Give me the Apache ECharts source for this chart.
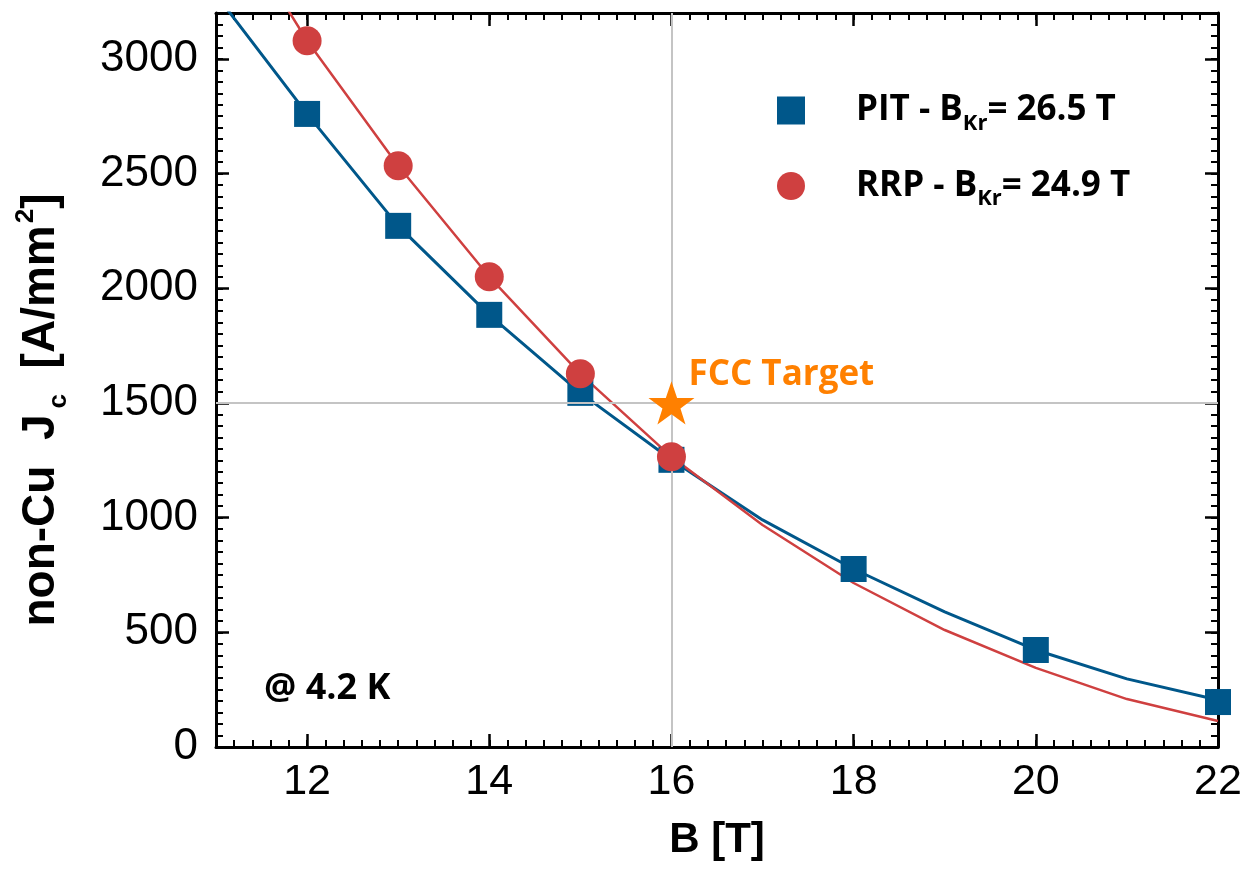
<!DOCTYPE html>
<html>
<head>
<meta charset="utf-8">
<script src="https://cdn.jsdelivr.net/npm/echarts@6/dist/echarts.min.js"></script>
<style>
  html, body { margin: 0; padding: 0; background: #fff; }
  #chart { width: 1249px; height: 880px; }
</style>
</head>
<body>
<div id="chart"></div>
<script>
// fit curves (at integer fields)
const fieldB = [11, 12, 13, 14, 15, 16, 17, 18, 19, 20, 21, 22];
const pitFit = [3280, 2760, 2272, 1884, 1544, 1252, 990, 776, 589, 423, 297, 205];
const rrpFit = [3720, 3079, 2534, 2050, 1627, 1265, 968, 715, 510, 345, 209, 113];

// measured points
const pitB = [12, 13, 14, 15, 16, 18, 20, 22];
const pitJc = [2760, 2272, 1884, 1544, 1252, 776, 423, 196];
const rrpB = [12, 13, 14, 15, 16];
const rrpJc = [3079, 2534, 2050, 1627, 1265];

// FCC target
const targetB = 16;
const targetJc = 1500;

const xTicks = [12, 14, 16, 18, 20, 22];
const yTicks = [0, 500, 1000, 1500, 2000, 2500, 3000];

const blue = '#00578a';
const red = '#cf4040';
const orange = '#ff8000';

function pairs(xs, ys) {
  return xs.map(function (x, i) { return [x, ys[i]]; });
}

const star = 'path://M50,0 L61.8,35.1 L98.1,35.1 L68.8,56.7 L79.4,90.5 L50,69.1 L20.6,90.5 L31.2,56.7 L1.9,35.1 L38.2,35.1 Z';

const line = { show: true, onZero: false, lineStyle: { color: '#000', width: 3 } };
function majorTick(values) {
  return { show: true, inside: true, length: 13, customValues: values, lineStyle: { color: '#000', width: 2.5 } };
}
const minorTick = { show: true, inside: true, length: 7, lineStyle: { color: '#000', width: 2 } };

// grid 0: main axes with labels and long ticks; grid 1 (same box): short ticks only
function xMain(pos, labels) {
  return {
    type: 'value', gridIndex: 0, min: 11, max: 22, position: pos,
    axisLine: line, axisTick: majorTick(xTicks), splitLine: { show: false },
    axisLabel: labels ? {
      margin: 14, color: '#000', fontSize: 43, fontFamily: 'Liberation Sans', customValues: xTicks
    } : { show: false }
  };
}
function xMinor(pos) {
  return {
    type: 'value', gridIndex: 1, min: 11, max: 22, interval: 0.2, position: pos,
    axisLine: { show: false, onZero: false }, axisTick: minorTick, axisLabel: { show: false }, splitLine: { show: false }
  };
}
function yMain(pos, labels) {
  return {
    type: 'value', gridIndex: 0, min: 0, max: 3200, position: pos,
    axisLine: line, axisTick: majorTick(yTicks), splitLine: { show: false },
    axisLabel: labels ? {
      margin: 18, color: '#000', fontSize: 44, fontFamily: 'Liberation Sans', customValues: yTicks,
      formatter: function (v) { return String(v); }
    } : { show: false }
  };
}
function yMinor(pos) {
  return {
    type: 'value', gridIndex: 1, min: 0, max: 3200, interval: 50, position: pos,
    axisLine: { show: false, onZero: false }, axisTick: minorTick, axisLabel: { show: false }, splitLine: { show: false }
  };
}

const xBottom = Object.assign(xMain('bottom', true), {
  name: 'B [T]', nameLocation: 'middle', nameGap: 72,
  nameTextStyle: { color: '#000', fontSize: 42, fontWeight: 'bold', fontFamily: 'Liberation Sans' }
});
const yLeft = Object.assign(yMain('left', true), {
  name: 'non-Cu  J{s|c}  [A/mm{p|2}]', nameLocation: 'middle', nameGap: 144,
  nameTextStyle: {
    color: '#000', fontSize: 46, fontWeight: 'bold', fontFamily: 'Liberation Sans',
    padding: [0, 60, 0, 0],
    rich: {
      s: { fontSize: 26, fontWeight: 'bold', fontFamily: 'Liberation Sans', color: '#000', padding: [36, 0, 0, 6] },
      p: { fontSize: 26, fontWeight: 'bold', fontFamily: 'Liberation Sans', color: '#000', padding: [0, 0, 30, 2] }
    }
  }
});

const gridBox = { left: 216, right: 31, top: 13, bottom: 133, outerBoundsMode: 'none', containLabel: false };

const chart = echarts.init(document.getElementById('chart'));

chart.setOption({
  animation: false,
  backgroundColor: '#fff',
  grid: [gridBox, gridBox],
  xAxis: [xBottom, xMain('top', false), xMinor('bottom'), xMinor('top')],
  yAxis: [yLeft, yMain('right', false), yMinor('left'), yMinor('right')],
  legend: {
    data: ['PIT', 'RRP'],
    orient: 'vertical',
    left: 772, top: 88,
    itemWidth: 28, itemHeight: 28, itemGap: 34,
    selectedMode: false,
    formatter: function (name) {
      return name === 'PIT'
        ? '{m|PIT - B}{s|Kr}{m|= 26.5 T}'
        : '{m|RRP - B}{s|Kr}{m|= 24.9 T}';
    },
    textStyle: {
      rich: {
        m: { fontSize: 35, fontWeight: 'bold', fontFamily: 'Open Sans', color: '#000' },
        s: { fontSize: 22, fontWeight: 'bold', fontFamily: 'Open Sans', color: '#000', padding: [26, 0, 0, 0] }
      },
      padding: [0, 0, 0, 46]
    }
  },
  graphic: [{
    type: 'text', left: 264, top: 671,
    style: { text: '@ 4.2 K', fontSize: 36, fontWeight: 'bold', fontFamily: 'Open Sans', fill: '#000' }
  }],
  series: [{
    name: 'grid lines', type: 'line', data: [], z: 1,
    markLine: {
      silent: true, symbol: ['none', 'none'], label: { show: false },
      lineStyle: { color: '#c4c4c4', width: 2, type: 'solid' },
      emphasis: { disabled: true },
      data: [{ xAxis: targetB }, { yAxis: targetJc }]
    }
  }, {
    name: 'PIT fit', type: 'line', data: pairs(fieldB, pitFit),
    showSymbol: false, lineStyle: { color: blue, width: 3 }, z: 2, silent: true
  }, {
    name: 'RRP fit', type: 'line', data: pairs(fieldB, rrpFit),
    showSymbol: false, lineStyle: { color: red, width: 2.5 }, z: 3, silent: true
  }, {
    name: 'PIT', type: 'scatter', data: pairs(pitB, pitJc),
    symbol: 'rect', symbolSize: 26, itemStyle: { color: blue, opacity: 1 }, z: 4
  }, {
    name: 'RRP', type: 'scatter', data: pairs(rrpB, rrpJc),
    symbol: 'circle', symbolSize: 29, itemStyle: { color: red, opacity: 1 }, z: 5
  }, {
    name: 'FCC Target', type: 'scatter', data: [[targetB, targetJc]],
    symbol: star, symbolSize: 46, symbolKeepAspect: true,
    itemStyle: { color: orange, opacity: 1 }, z: 6,
    label: {
      show: true, position: 'right', distance: 0, offset: [-6, -28],
      formatter: 'FCC Target', color: orange,
      fontSize: 35, fontWeight: 'bold', fontFamily: 'Open Sans'
    }
  }]
});
</script>
</body>
</html>
